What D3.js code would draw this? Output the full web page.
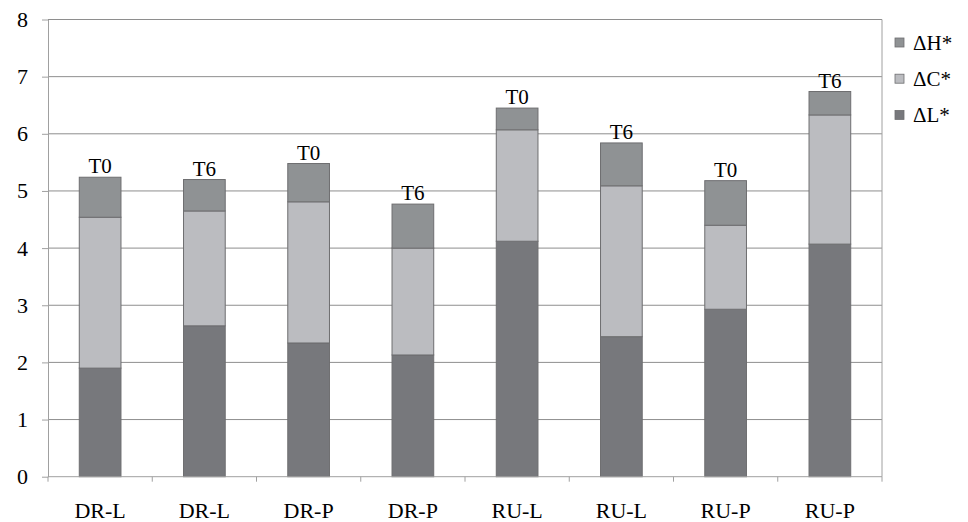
<!DOCTYPE html>
<html>
<head>
<meta charset="utf-8">
<script src="https://cdn.jsdelivr.net/npm/d3@7"></script>
<style>
  html, body { margin: 0; padding: 0; background: #fff; }
  svg { display: block; }
  text { font-family: "Liberation Serif", "Times New Roman", Times, serif; fill: #000; }
</style>
</head>
<body>
<script>
const categories = ["DR-L", "DR-L", "DR-P", "DR-P", "RU-L", "RU-L", "RU-P", "RU-P"];
const timeLabels = ["T0", "T6", "T0", "T6", "T0", "T6", "T0", "T6"];
const deltaL = [1.90, 2.64, 2.34, 2.13, 4.12, 2.45, 2.93, 4.07];
const deltaC = [2.64, 2.01, 2.47, 1.87, 1.95, 2.64, 1.47, 2.26];
const deltaH = [0.70, 0.55, 0.67, 0.77, 0.38, 0.75, 0.78, 0.41];
const seriesNames = ["ΔL*", "ΔC*", "ΔH*"];
const yTicks = [0, 1, 2, 3, 4, 5, 6, 7, 8];

const W = 968, H = 522;
const colors = {"ΔL*": "#77787c", "ΔC*": "#bbbcc0", "ΔH*": "#8f9294"};

const svg = d3.select("body").append("svg").attr("width", W).attr("height", H);

const x0 = 48, x1 = 882, yBottom = 476.7, yTop = 19.5;
const idx = categories.map((_, i) => i);
const x = d3.scaleBand().domain(idx).range([x0, x1]).paddingInner(0.6).paddingOuter(0.3);
const y = d3.scaleLinear().domain([0, 8]).range([yBottom, yTop]);

// gridlines
svg.append("g").selectAll("line").data(yTicks.filter(d => d > 0)).join("line")
  .attr("x1", x0).attr("x2", x1)
  .attr("y1", d => y(d)).attr("y2", d => y(d))
  .attr("stroke", "#8e8e8e").attr("stroke-width", 1);

// right border
svg.append("line").attr("x1", x1).attr("x2", x1).attr("y1", yTop).attr("y2", yBottom)
  .attr("stroke", "#a0a0a0").attr("stroke-width", 1);

// stacked data
const rows = idx.map(i => ({i, "ΔL*": deltaL[i], "ΔC*": deltaC[i], "ΔH*": deltaH[i]}));
const stack = d3.stack().keys(seriesNames)(rows);

svg.append("g").selectAll("g").data(stack).join("g")
  .attr("fill", d => colors[d.key])
  .selectAll("rect").data(d => d).join("rect")
  .attr("x", d => x(d.data.i))
  .attr("width", x.bandwidth())
  .attr("y", d => y(d[1]))
  .attr("height", d => y(d[0]) - y(d[1]))
  .attr("stroke", "#6e6e70").attr("stroke-width", 1);

// time labels above bars
const totals = idx.map(i => deltaL[i] + deltaC[i] + deltaH[i]);
svg.append("g").selectAll("text").data(idx).join("text")
  .attr("x", i => x(i) + x.bandwidth() / 2)
  .attr("y", i => y(totals[i]) - 4)
  .attr("text-anchor", "middle")
  .attr("font-size", 21)
  .text(i => timeLabels[i]);

// y axis
const yAxis = svg.append("g").attr("transform", `translate(${x0},0)`)
  .call(d3.axisLeft(y).tickValues(yTicks).tickSize(6).tickSizeOuter(0).tickFormat(d3.format("d")));
yAxis.attr("font-family", null);
yAxis.select(".domain").attr("stroke", "#a0a0a0");
yAxis.selectAll(".tick line").attr("stroke", "#a0a0a0");
yAxis.selectAll(".tick text").attr("x", -20).attr("font-size", 22).attr("fill", "#000");

// x axis
const xAxisLine = svg.append("g");
xAxisLine.append("line").attr("x1", x0).attr("x2", x1).attr("y1", yBottom).attr("y2", yBottom)
  .attr("stroke", "#a0a0a0").attr("stroke-width", 1);
const step = x.step();
const boundaries = d3.range(categories.length + 1).map(k => x0 + k * step);
xAxisLine.selectAll("line.tk").data(boundaries).join("line").attr("class", "tk")
  .attr("x1", d => d).attr("x2", d => d).attr("y1", yBottom).attr("y2", yBottom + 5)
  .attr("stroke", "#a0a0a0");
svg.append("g").selectAll("text").data(idx).join("text")
  .attr("x", i => x(i) + x.bandwidth() / 2)
  .attr("y", 518)
  .attr("text-anchor", "middle")
  .attr("font-size", 22)
  .text(i => categories[i]);

// legend
const legendItems = ["ΔH*", "ΔC*", "ΔL*"];
const lg = svg.append("g").selectAll("g").data(legendItems).join("g")
  .attr("transform", (d, k) => `translate(895,${42.5 + k * 36.2})`);
lg.append("rect").attr("x", 0).attr("y", -4.5).attr("width", 9).attr("height", 9)
  .attr("fill", d => colors[d]).attr("stroke", "#6e6e70").attr("stroke-width", 0.8);
lg.append("text").attr("x", 18).attr("y", 7).attr("font-size", 21).text(d => d);
</script>
</body>
</html>
